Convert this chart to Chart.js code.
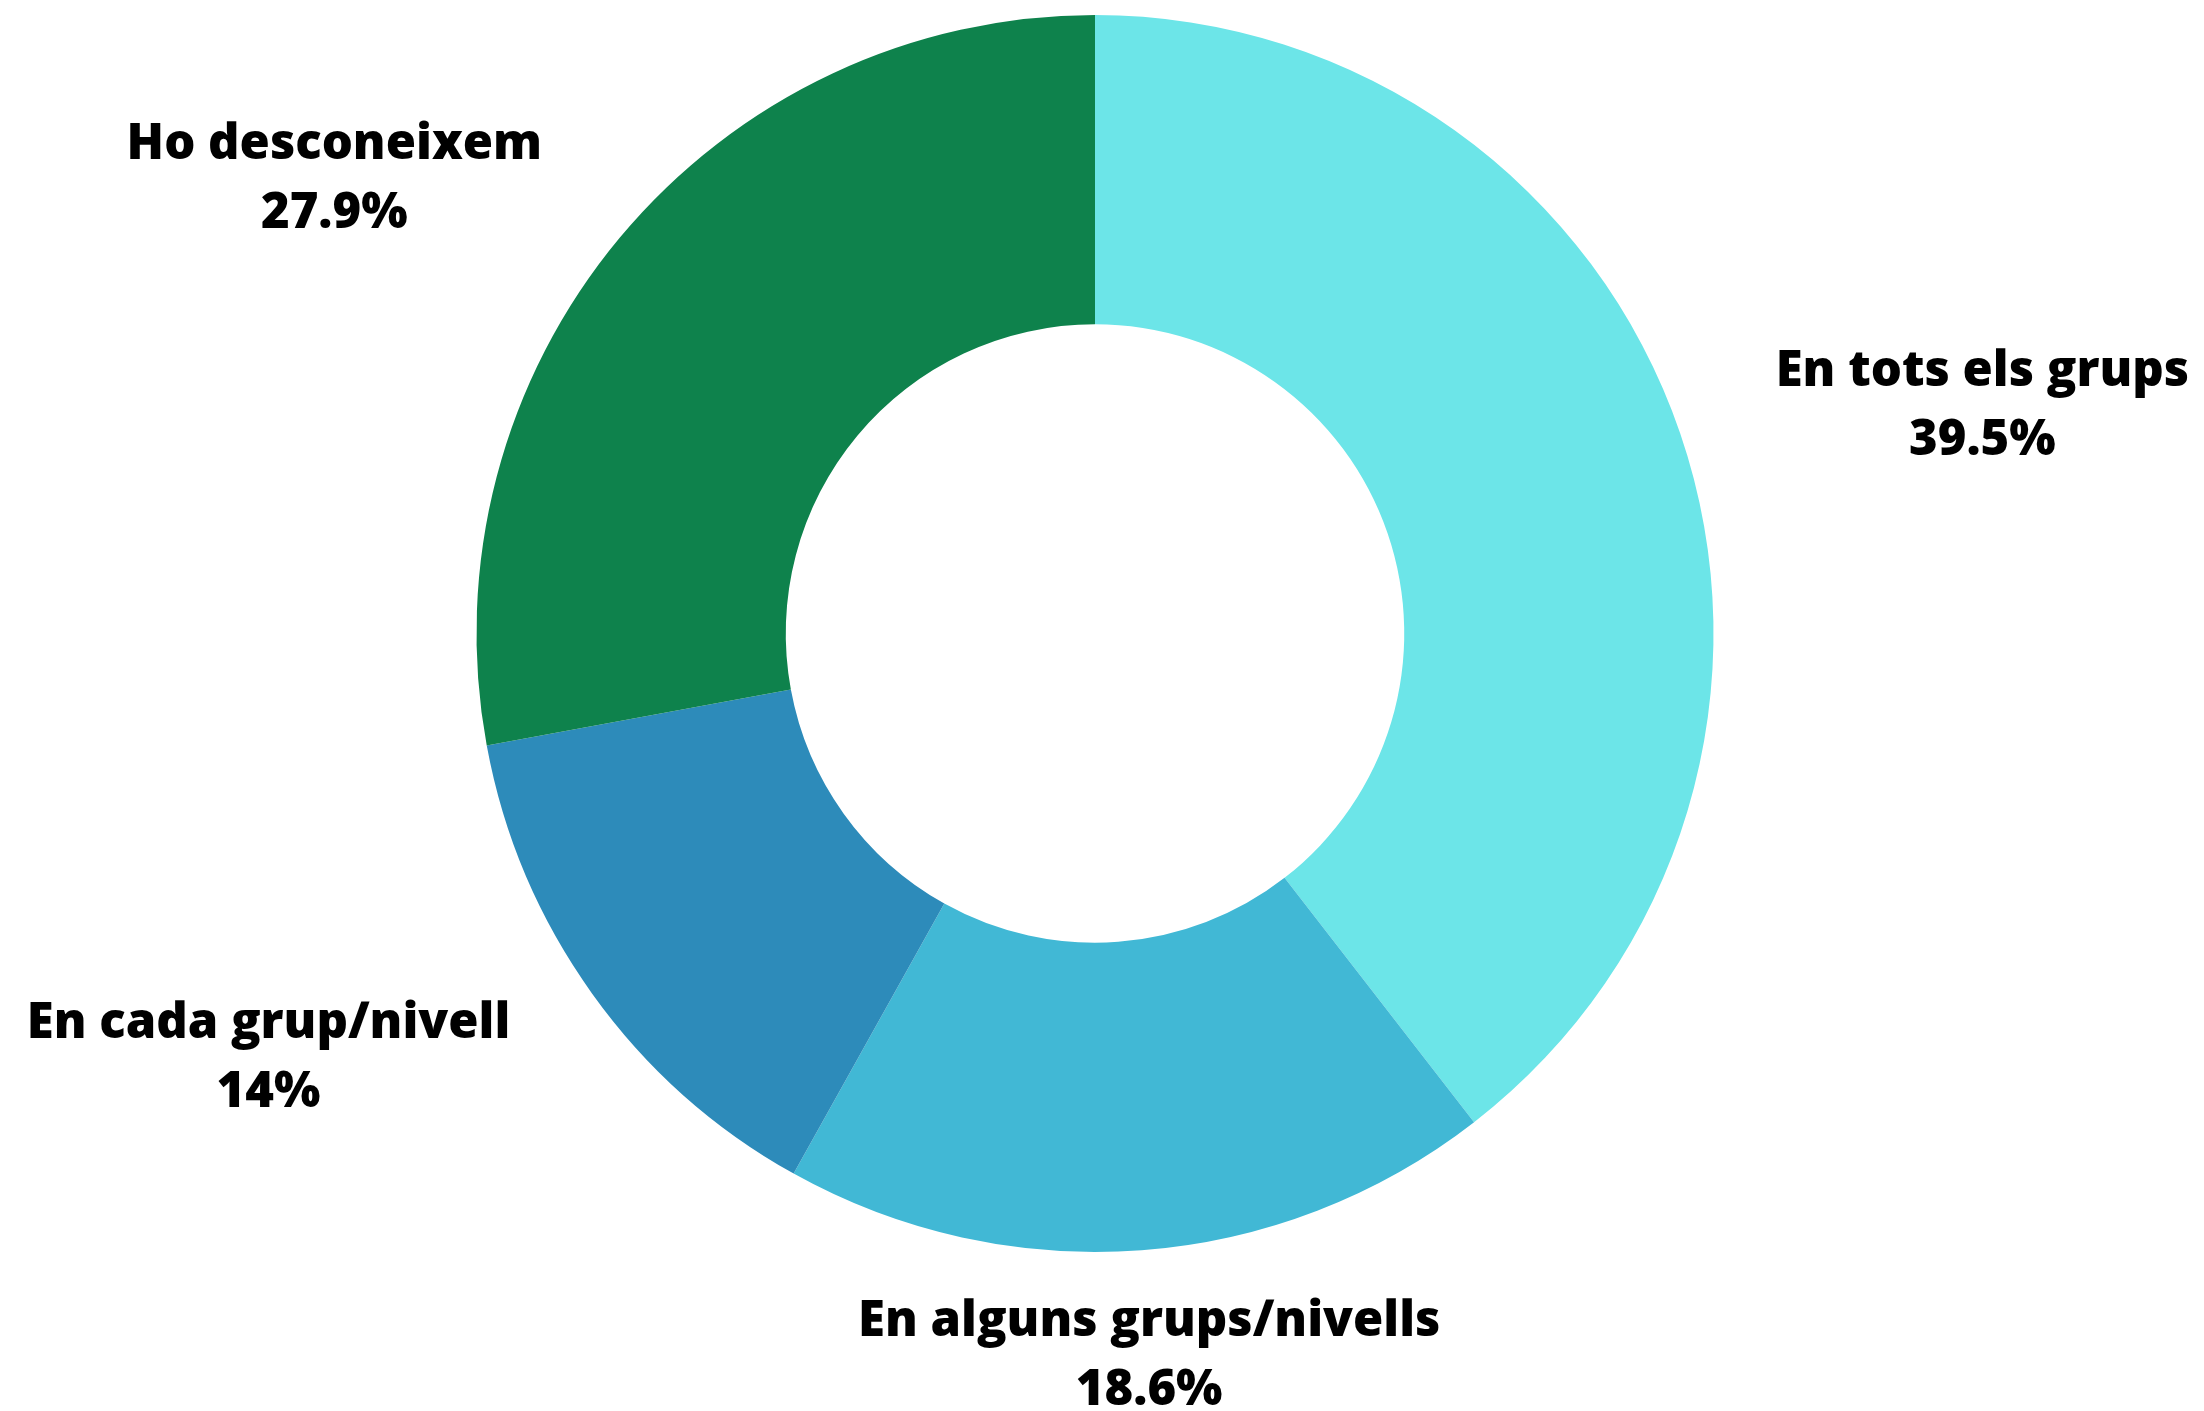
<!DOCTYPE html>
<html>
<head>
<meta charset="utf-8">
<script src="https://cdn.jsdelivr.net/npm/chart.js@4/dist/chart.umd.min.js"></script>
<style>
  html, body { margin: 0; padding: 0; background: #ffffff; }
  #wrap { width: 2204px; height: 1411px; position: relative; }
</style>
</head>
<body>
<div id="wrap"><canvas id="c" width="2204" height="1411"></canvas></div>
<script>
const categories = ["En tots els grups", "En alguns grups/nivells", "En cada grup/nivell", "Ho desconeixem"];
const values = [39.5, 18.6, 14, 27.9];
const valueLabels = ["39.5%", "18.6%", "14%", "27.9%"];
const colors = ["#6CE5E8", "#41B8D5", "#2D8BBA", "#0E824C"];

const labelPlugin = {
  id: 'sliceLabels',
  afterDatasetsDraw(chart) {
    const ctx = chart.ctx;
    const meta = chart.getDatasetMeta(0);
    ctx.save();
    ctx.fillStyle = '#000000';
    ctx.font = '800 49px "Open Sans"';
    ctx.textBaseline = 'middle';
    const lineH = 69;
    meta.data.forEach((arc, i) => {
      const p = arc.getProps(['x', 'y', 'startAngle', 'endAngle', 'outerRadius'], true);
      const mid = (p.startAngle + p.endAngle) / 2;
      const r = p.outerRadius + 101;
      const ax = p.x + Math.cos(mid) * r;
      const ay = p.y + Math.sin(mid) * r + 6;
      const c = Math.cos(mid);
      ctx.textAlign = Math.abs(c) < 0.2 ? 'center' : (c > 0 ? 'left' : 'right');
      const lines = [categories[i], valueLabels[i]];
      const top = ay - (lines.length - 1) * lineH / 2;
      if (ctx.textAlign === 'center') {
        lines.forEach((t, k) => ctx.fillText(t, ax, top + k * lineH));
      } else {
        const w0 = ctx.measureText(lines[0]).width;
        const cx = ctx.textAlign === 'left' ? ax + w0 / 2 : ax - w0 / 2;
        ctx.fillText(lines[0], ax, top);
        ctx.textAlign = 'center';
        ctx.fillText(lines[1], cx, top + lineH);
      }
    });
    ctx.restore();
  }
};

new Chart(document.getElementById('c'), {
  type: 'doughnut',
  data: {
    labels: categories,
    datasets: [{
      data: values,
      backgroundColor: colors,
      borderWidth: 0
    }]
  },
  options: {
    responsive: false,
    animation: false,
    cutout: '50%',
    layout: { padding: { top: 15, bottom: 159, left: 0, right: 14 } },
    plugins: {
      legend: { display: false },
      tooltip: { enabled: false }
    }
  },
  plugins: [labelPlugin]
});
</script>
</body>
</html>
